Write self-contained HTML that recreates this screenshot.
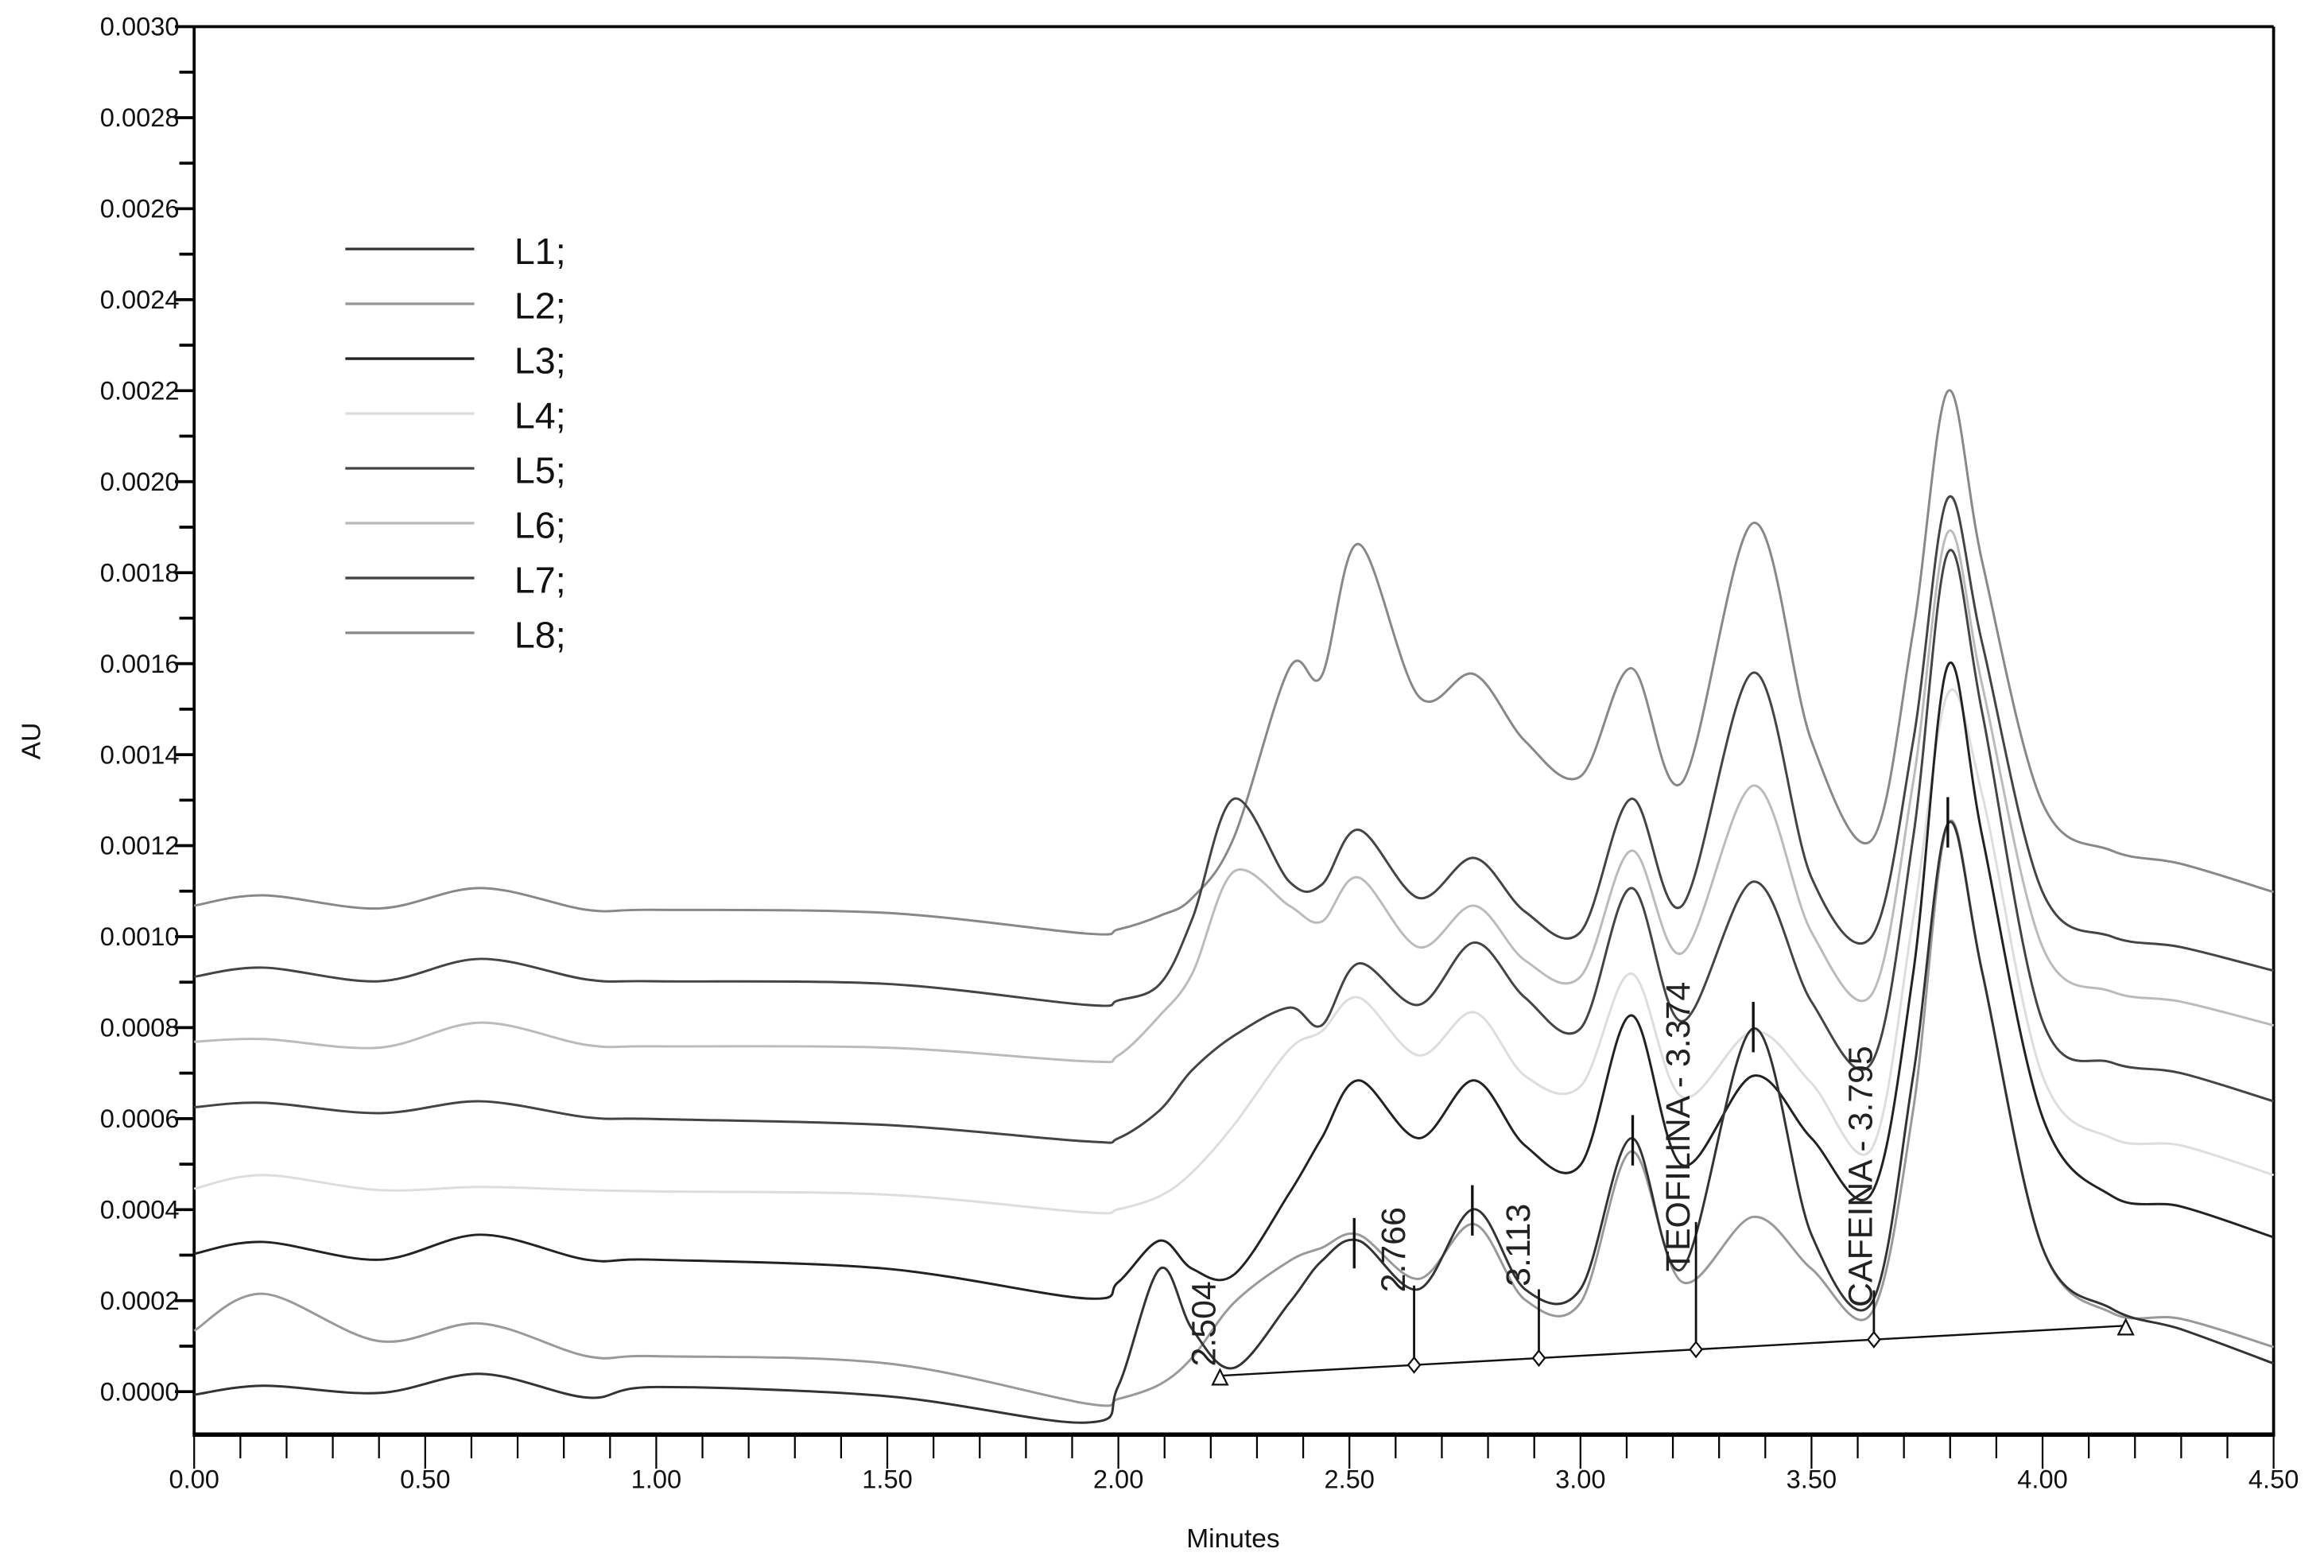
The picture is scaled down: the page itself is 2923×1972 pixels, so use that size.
<!DOCTYPE html>
<html><head><meta charset="utf-8"><style>
html,body{margin:0;padding:0;background:#fff;}
svg{display:block;font-family:"Liberation Sans",Arial,sans-serif;}
</style></head><body>
<svg id="chart" width="2923" height="1972" viewBox="0 0 1568 1058" preserveAspectRatio="none" xmlns="http://www.w3.org/2000/svg">
<rect x="0" y="0" width="1568" height="1058" fill="#fff"/>
<g id="frame"></g>
<g id="traces"></g>
<g id="annot"></g>
<g id="legend"></g>
</svg>
<script>
const times = [0,0.15,0.4,0.62,0.85,1.0,1.5,1.93,2.0,2.09,2.16,2.25,2.37,2.44,2.52,2.65,2.77,2.88,3.0,3.11,3.22,3.374,3.5,3.63,3.72,3.795,3.87,4.0,4.15,4.3,4.5];
// values in units of 1e-4 AU
const L1 = [-0.07,0.13,-0.03,0.39,-0.13,0.10,-0.10,-0.68,0.13,2.70,1.37,0.52,1.95,2.87,3.32,2.25,4.01,2.25,2.25,5.57,2.70,7.98,3.45,1.95,6.94,12.48,9.19,3.16,1.82,1.37,0.62];
const L2 = [1.34,2.15,1.11,1.50,0.78,0.78,0.62,-0.26,-0.16,0.16,0.75,1.95,2.87,3.16,3.45,2.48,3.68,2.02,1.95,5.28,2.41,3.84,2.70,1.73,6.19,12.48,9.19,3.16,1.73,1.60,0.98];
const L3 = [3.03,3.29,2.90,3.45,2.90,2.90,2.70,2.05,2.41,3.32,2.70,2.57,4.36,5.57,6.84,5.57,6.84,5.41,4.98,8.27,4.98,6.94,5.57,4.36,9.19,15.96,12.18,6.03,4.30,4.07,3.39];
const L4 = [4.46,4.76,4.43,4.50,4.43,4.40,4.33,3.94,4.01,4.30,4.82,5.86,7.52,7.92,8.66,7.39,8.34,6.94,6.71,9.19,6.48,7.92,6.78,5.34,10.39,15.34,13.09,6.94,5.57,5.41,4.76];
const L5 = [6.25,6.35,6.12,6.38,6.03,5.99,5.86,5.50,5.57,6.19,7.07,7.82,8.44,8.05,9.41,8.50,9.87,8.66,7.98,11.07,8.14,11.21,8.57,7.23,12.18,18.44,14.89,8.14,7.23,7.00,6.38];
const L6 = [7.69,7.75,7.56,8.11,7.62,7.59,7.56,7.26,7.39,8.27,9.19,11.43,10.68,10.33,11.30,9.77,10.68,9.48,9.12,11.89,9.64,13.32,10.10,8.73,13.39,18.89,15.50,9.77,8.79,8.57,8.05];
const L7 = [9.12,9.32,9.02,9.51,9.06,9.02,8.96,8.50,8.60,8.96,10.39,13.03,11.21,11.14,12.35,10.85,11.73,10.55,10.10,13.03,10.68,15.80,11.30,10.00,14.30,19.64,16.42,10.98,10.00,9.77,9.25];
const L8 = [10.68,10.91,10.62,11.07,10.59,10.59,10.52,10.07,10.16,10.46,10.85,12.18,15.90,15.73,18.63,15.28,15.77,14.30,13.52,15.90,13.39,19.09,14.30,12.12,16.71,21.99,18.21,12.93,11.89,11.60,10.98];
const seriesNames = ["L1;","L2;","L3;","L4;","L5;","L6;","L7;","L8;"];
const seriesColors = ["#333","#999","#222","#ddd","#444","#bbb","#444","#888"];
const yTickLabels = ["0.0000","0.0002","0.0004","0.0006","0.0008","0.0010","0.0012","0.0014","0.0016","0.0018","0.0020","0.0022","0.0024","0.0026","0.0028","0.0030"];
const xTickLabels = ["0.00","0.50","1.00","1.50","2.00","2.50","3.00","3.50","4.00","4.50"];
const peakTimes = [2.504,2.766,3.113,3.374,3.795];
const peakLabels = ["2.504","2.766","3.113","TEOFILINA - 3.374","CAFEINA - 3.795"];
const dropTimes = [2.64,2.91,3.25,3.635];
const baseStart = [2.22,0.35];
const baseEnd = [4.18,1.45];

const NS="http://www.w3.org/2000/svg";
const X0=131,X1=1534,TMAX=4.5, Y0=939;
function sx(t){return X0+(X1-X0)*t/TMAX;}
function sy(v){return Y0 - v*30.7;} // v in 1e-4 AU
function mk(tag,attrs,parent){const e=document.createElementNS(NS,tag);for(const k in attrs)e.setAttribute(k,attrs[k]);parent.appendChild(e);return e;}

const frame=document.getElementById('frame');
let e;
e=mk('line',{x1:X0,y1:18,x2:X1,y2:18,stroke:'#000','stroke-width':2},frame);


e=mk('line',{x1:X1,y1:18,x2:X1,y2:968,stroke:'#000','stroke-width':2},frame);


e=mk('line',{x1:X0,y1:18,x2:X0,y2:968,stroke:'#000','stroke-width':2},frame);


e=mk('line',{x1:X0-1,y1:968,x2:X1+1,y2:968,stroke:'#000','stroke-width':3},frame);


for(let i=-1;i<=30;i++){
  const y=sy(i);
  if(y<17||y>968)continue;
  const major=(i%2===0)&&i>=0;
  e=mk('line',{x1:major?118:121,y1:y,x2:X0,y2:y,stroke:'#000','stroke-width':2},frame);
  
  
}
yTickLabels.forEach((lab,i)=>{
  e=mk('text',{x:121,y:sy(i*2)+6,'text-anchor':'end','font-size':17.5,fill:'#111'},frame);
  e.textContent=lab;
  
  
});
for(let i=0;i<=45;i++){
  const x=sx(i*0.1);const major=i%5===0;
  e=mk('line',{x1:x,y1:968,x2:x,y2:major?991:984,stroke:'#000','stroke-width':1.2},frame);
  
  
}
xTickLabels.forEach((lab,i)=>{
  e=mk('text',{x:sx(i*0.5),y:1004,'text-anchor':'middle','font-size':17.5,fill:'#111'},frame);
  e.textContent=lab;
  
  
});
e=mk('text',{x:832,y:1044,'text-anchor':'middle','font-size':18,fill:'#111'},frame);
e.textContent='Minutes';


e=mk('text',{x:0,y:0,'text-anchor':'middle','font-size':18,fill:'#111',transform:'translate(27,500) rotate(-90)'},frame);
e.textContent='AU';



function pathFor(vals){
  const p=times.map((t,i)=>[sx(t),sy(vals[i])]);
  let d='M'+p[0][0].toFixed(1)+','+p[0][1].toFixed(1);
  for(let i=0;i<p.length-1;i++){
    const a=p[Math.max(0,i-1)],b=p[i],c=p[i+1],f=p[Math.min(p.length-1,i+2)];
    const c1=[b[0]+(c[0]-a[0])/6,b[1]+(c[1]-a[1])/6];
    const c2=[c[0]-(f[0]-b[0])/6,c[1]-(f[1]-b[1])/6];
    d+=' C'+c1[0].toFixed(1)+','+c1[1].toFixed(1)+' '+c2[0].toFixed(1)+','+c2[1].toFixed(1)+' '+c[0].toFixed(1)+','+c[1].toFixed(1);
  }
  return d;
}
const allSeries=[L1,L2,L3,L4,L5,L6,L7,L8];
const tr=document.getElementById('traces');
for(let s=allSeries.length-1;s>=0;s--){
  e=mk('path',{d:pathFor(allSeries[s]),fill:'none',stroke:seriesColors[s],'stroke-width':1.6},tr);
  
  
}

const an=document.getElementById('annot');
function interp(vals,t){for(let i=0;i<times.length-1;i++){if(t>=times[i]&&t<=times[i+1]){const f=(t-times[i])/(times[i+1]-times[i]);return vals[i]+f*(vals[i+1]-vals[i]);}}return vals[vals.length-1];}
const bx1=sx(baseStart[0]),by1=sy(baseStart[1]),bx2=sx(baseEnd[0]),by2=sy(baseEnd[1]);
e=mk('line',{x1:bx1,y1:by1,x2:bx2,y2:by2,stroke:'#111','stroke-width':1.3},an);


[[bx1,by1],[bx2,by2]].forEach(([x,y])=>{
  e=mk('path',{d:`M${x-5},${y+6} L${x+5},${y+6} L${x},${y-4} Z`,fill:'#fff',stroke:'#111','stroke-width':1.2},an);
  
  
});
function baseY(x){return by1+(by2-by1)*(x-bx1)/(bx2-bx1);}
dropTimes.forEach(t=>{
  const x=sx(t),yb=baseY(x),yt=sy(interp(L1,t));
  e=mk('line',{x1:x,y1:yt,x2:x,y2:yb,stroke:'#111','stroke-width':1.5},an);
  
  
  e=mk('path',{d:`M${x},${yb-5} L${x+4},${yb} L${x},${yb+5} L${x-4},${yb} Z`,fill:'#fff',stroke:'#111','stroke-width':1.2},an);
  
  
});
peakTimes.forEach((t,i)=>{
  const x=sx(t)-(i===0?-2:0),y=sy(interp(L1,t));
  e=mk('line',{x1:x,y1:y-18,x2:x,y2:y+16,stroke:'#111','stroke-width':1.8},an);
  
  
});
const labPos=[[820,922],[948,872],[1032,868],[1140,858],[1263,882]];
peakLabels.forEach((lab,i)=>{
  e=mk('text',{x:0,y:0,'font-size':23,fill:'#222',transform:`translate(${labPos[i][0]},${labPos[i][1]}) rotate(-90)`},an);
  e.textContent=lab;
  
  
});

const lg=document.getElementById('legend');
seriesNames.forEach((n,i)=>{
  const y=168+i*37;
  e=mk('line',{x1:233,y1:y,x2:320,y2:y,stroke:seriesColors[i],'stroke-width':1.8},lg);
  
  
  e=mk('text',{x:347,y:y+10,'font-size':25,fill:'#111'},lg);
  e.textContent=n;
  
  
});
</script>
</body></html>
